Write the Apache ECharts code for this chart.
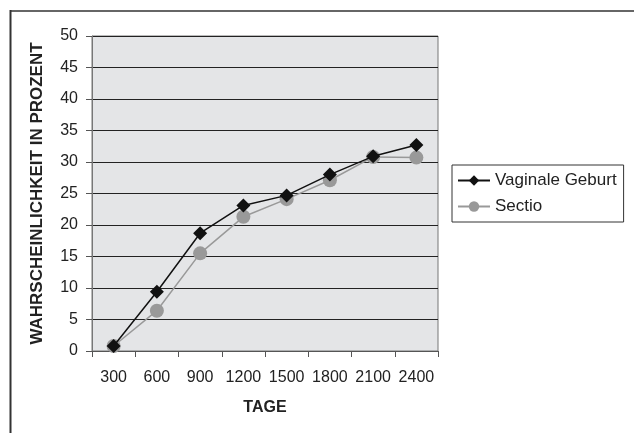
<!DOCTYPE html>
<html><head><meta charset="utf-8">
<script src="https://cdn.jsdelivr.net/npm/echarts@6/dist/echarts.min.js"></script>
<style>html,body{margin:0;padding:0;background:#fff}#c{width:634px;height:433px}</style>
</head><body><div id="c"></div>
<script>
var categories = ['300','600','900','1200','1500','1800','2100','2400'];
var vaginal = [0.8, 9.4, 18.7, 23.1, 24.7, 28.0, 30.9, 32.7];
var sectio = [0.8, 6.4, 15.5, 21.3, 24.1, 27.1, 30.8, 30.7];
var seriesNames = ['Vaginale Geburt', 'Sectio'];
var xName = 'TAGE';
var yName = 'WAHRSCHEINLICHKEIT IN PROZENT';

var font = 'Liberation Sans, Arial, sans-serif';
var chart = echarts.init(document.getElementById('c'), null, {renderer:'canvas'});
chart.setOption({
  animation: false,
  backgroundColor: '#fff',
  textStyle: {fontFamily: font},
  grid: {left: 92, right: 196, top: 36, bottom: 82, show: true, backgroundColor: '#e4e5e7', borderColor: '#777', borderWidth: 1},
  legend: {
    orient: 'vertical', left: 452, top: 165,
    itemWidth: 32, itemHeight: 13, itemGap: 9,
    padding: [7, 7, 7, 5],
    borderColor: '#333', borderWidth: 1,
    textStyle: {fontSize: 17, color: '#222', fontFamily: font},
    data: seriesNames
  },
  xAxis: {
    type: 'category', data: categories, boundaryGap: true,
    axisLine: {lineStyle: {color: '#555', width: 1}},
    axisTick: {show: true, length: 6, lineStyle: {color: '#555'}},
    axisLabel: {interval: 0, fontSize: 16, color: '#222', margin: 19, fontFamily: font},
    name: xName, nameLocation: 'middle', nameGap: 49,
    nameTextStyle: {fontSize: 16, fontWeight: 'bold', color: '#222', fontFamily: font}
  },
  yAxis: {
    type: 'value', min: 0, max: 50, interval: 5,
    axisLine: {show: true, lineStyle: {color: '#777', width: 1}},
    axisTick: {show: true, length: 6, lineStyle: {color: '#555'}},
    axisLabel: {fontSize: 16, color: '#222', margin: 14, fontFamily: font},
    splitLine: {lineStyle: {color: '#222', width: 1}},
    name: yName, nameLocation: 'middle', nameGap: 46, nameRotate: 90,
    nameTextStyle: {fontSize: 17, fontWeight: 'bold', color: '#222', fontFamily: font}
  },
  series: [
    {name: seriesNames[0], type: 'line', data: vaginal, symbol: 'diamond', symbolSize: 14,
     lineStyle: {color: '#111', width: 1.5}, itemStyle: {color: '#111'}, z: 3},
    {name: seriesNames[1], type: 'line', data: sectio, symbol: 'circle', symbolSize: 14,
     lineStyle: {color: '#999', width: 1.5}, itemStyle: {color: '#999'}, z: 2}
  ],
  graphic: [
    {type: 'line', shape: {x1: 10, y1: 11, x2: 634, y2: 11}, style: {stroke: '#666', lineWidth: 2}},
    {type: 'line', shape: {x1: 10.5, y1: 10, x2: 10.5, y2: 433}, style: {stroke: '#333', lineWidth: 2}}
  ]
});
</script></body></html>
